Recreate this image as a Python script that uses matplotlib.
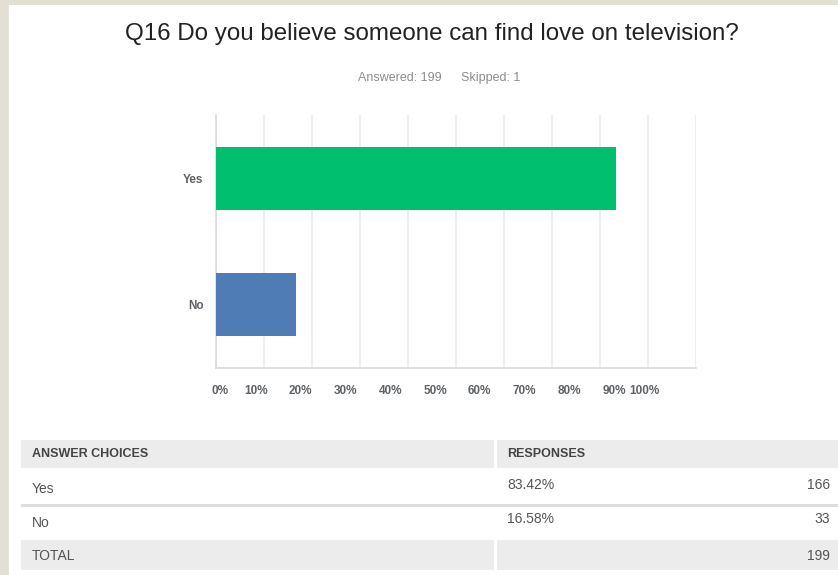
import matplotlib.pyplot as plt
from matplotlib.patches import Rectangle

# survey data
choices = ['Yes', 'No']
percents = [83.42, 16.58]
counts = [166, 33]
answered = 199
skipped = 1
bar_colors = ['#00bf6f', '#507cb6']
ticks = list(range(0, 101, 10))

W, H = 838, 575
fig = plt.figure(figsize=(W / 100, H / 100), dpi=100)
fig.patch.set_facecolor('#e2e0d4')

def px(x, y):
    # pixel coords (top-left origin) -> figure fraction
    return x / W, 1 - y / H

def rect(x0, y0, x1, y1, color):
    fig.patches.append(Rectangle((x0 / W, 1 - y1 / H), (x1 - x0) / W, (y1 - y0) / H,
                                 transform=fig.transFigure, facecolor=color,
                                 edgecolor='none', zorder=-5))

# white page
rect(9, 5, W, H, 'white')

plt.rcParams['font.family'] = ['Liberation Sans', 'DejaVu Sans']

fig.text(*px(432, 34), 'Q16 Do you believe someone can find love on television?',
         ha='center', va='center', fontsize=17.4, color='#222222')
fig.text(*px(442, 78), f'Answered: {answered}', ha='right', va='center',
         fontsize=9, color='#8a8d91')
fig.text(*px(461, 78), f'Skipped: {skipped}', ha='left', va='center',
         fontsize=9, color='#8a8d91')

# bar chart
ax = fig.add_axes([216 / W, 1 - 368 / H, 480 / W, (368 - 115) / H])
ax.set_facecolor('none')
ypos = list(range(len(choices)))
ax.barh(ypos, percents, height=0.5, color=bar_colors, zorder=3)
ax.set_xlim(0, 100)
ax.set_ylim(1.5, -0.5)
ax.set_xticks(ticks)
ax.set_xticklabels([])
ax.set_yticks(ypos)
ax.set_yticklabels(choices)
ax.tick_params(length=0, colors='#5f6368', labelsize=8.5, pad=9)
for lab in ax.get_yticklabels():
    lab.set_fontweight('bold')
ax.grid(axis='x', color='#ebebeb', linewidth=1.2, zorder=0)
for s in ['top', 'right']:
    ax.spines[s].set_visible(False)
for s in ['left', 'bottom']:
    ax.spines[s].set_color('#d9d9d9')
    ax.spines[s].set_linewidth(1.2)

# percentage labels sit on a slightly narrower band than the grid
lab_ax = fig.add_axes([211 / W, 1 - 368 / H, (659 - 211) / W, 0.001])
lab_ax.set_xlim(0, 100)
lab_ax.set_xticks(ticks)
lab_ax.set_xticklabels([f'{t}%' for t in ticks])
lab_ax.set_yticks([])
lab_ax.tick_params(length=0, colors='#5f6368', labelsize=8.5, pad=12)
lab_ax.patch.set_visible(False)
for s in lab_ax.spines.values():
    s.set_visible(False)
xl = lab_ax.get_xticklabels()
for lab in xl:
    lab.set_fontweight('bold')
xl[0].set_ha('left')
xl[-1].set_ha('right')

# results table
gray = '#ececec'
rect(21, 440, W, 468, gray)
rect(21, 540, W, 570, gray)
rect(21, 504, W, 506.5, '#dcdcdc')
rect(494, 440, 497, 468, 'white')
rect(494, 540, 497, 570, 'white')

tcol = '#555555'
tfont = ['Liberation Sans Narrow', 'Liberation Sans', 'DejaVu Sans']
fig.text(*px(32, 454), 'ANSWER CHOICES', ha='left', va='center', fontsize=9,
         color='#444444', family=tfont, fontweight='bold')
fig.text(*px(507, 454), 'RESPONSES', ha='left', va='center', fontsize=9,
         color='#444444', family=tfont, fontweight='bold')
row_y = [489, 523]
for name, pct, n, y in zip(choices, percents, counts, row_y):
    fig.text(*px(32, y), name, ha='left', va='center', fontsize=10,
             color=tcol, family=tfont)
    fig.text(*px(507, y - 4), f'{pct:.2f}%', ha='left', va='center', fontsize=10,
             color=tcol, family=tfont)
    fig.text(*px(830, y - 4), str(n), ha='right', va='center', fontsize=10,
             color=tcol, family=tfont)
fig.text(*px(32, 556), 'TOTAL', ha='left', va='center', fontsize=10,
         color=tcol, family=tfont)
fig.text(*px(830, 556), str(sum(counts)), ha='right', va='center', fontsize=10,
         color=tcol, family=tfont)

fig.savefig('out.png', dpi=100, facecolor=fig.get_facecolor())
